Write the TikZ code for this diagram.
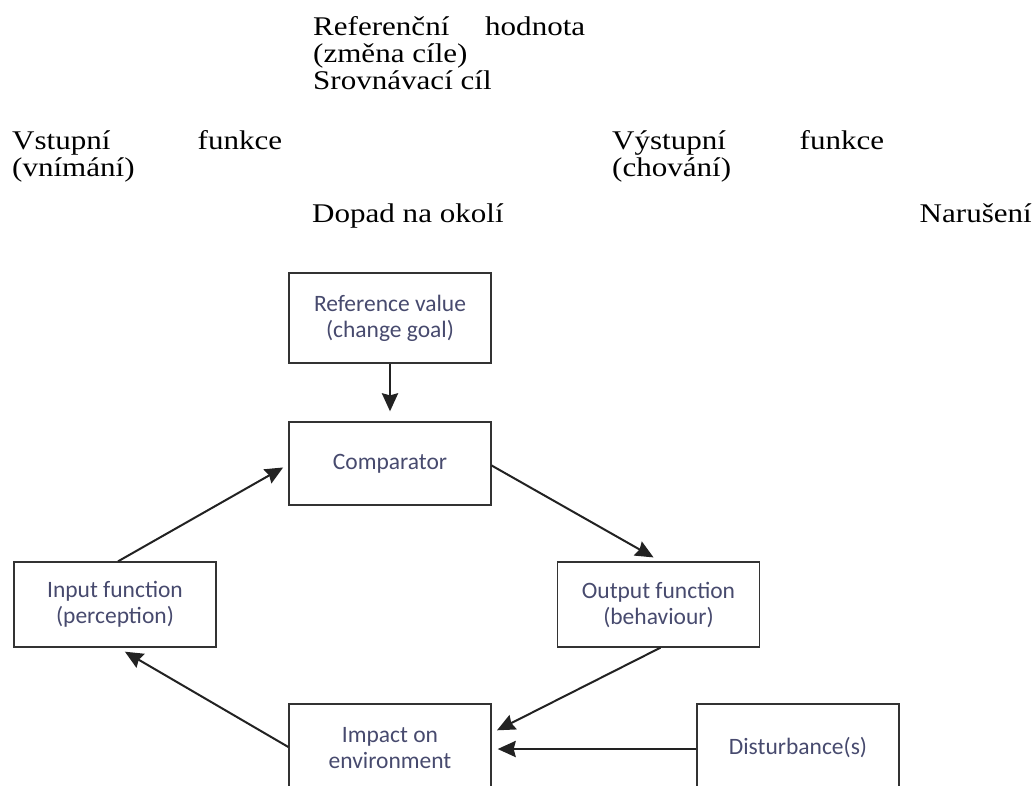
\documentclass[tikz,border=0pt]{standalone}
\usepackage{fontspec}
\setmainfont{Liberation Serif}
\newfontfamily\czfont{Liberation Serif}[FakeStretch=1.15]
\newfontfamily\boxfont{Carlito}
\usetikzlibrary{arrows.meta,calc}

\definecolor{boxtext}{HTML}{474A6E}
\definecolor{frame}{HTML}{333333}
\definecolor{wire}{HTML}{222222}

\tikzset{
  cztext/.style={anchor=base west, inner sep=0pt, font={\czfont\fontsize{27}{27}\selectfont}},
  block/.style={draw=frame, line width=1.3pt, rectangle, inner sep=0pt,
    minimum width=202pt, text=boxtext, align=center,
    font={\boxfont\fontsize{23.5}{26}\selectfont}},
  link/.style={draw=wire, line width=2pt,
    -{Stealth[length=18pt,width=16pt,inset=2pt]}},
  heavylink/.style={link, line width=2.8pt}
}

\begin{document}
\begin{tikzpicture}[x=1pt,y=-1pt]
\useasboundingbox (0,0) rectangle (1035,785);
\clip (0,0) rectangle (1035,785);

% Czech labels
\node[cztext] (czref)  at (313,35)  {\makebox[272pt][s]{Referenční hodnota}};
\node[cztext] (czrefb) at (313,62)  {(změna cíle)};
\node[cztext] (czcmp)  at (313,89)  {Srovnávací cíl};
\node[cztext] (czin)   at (12,149)  {\makebox[270pt][s]{Vstupní funkce}};
\node[cztext] (czinb)  at (12,176)  {(vnímání)};
\node[cztext] (czout)  at (612,149) {\makebox[272pt][s]{Výstupní funkce}};
\node[cztext] (czoutb) at (612,176) {(chování)};
\node[cztext] (czimp)  at (312,222) {Dopad na okolí};
\node[cztext, anchor=base east] (czdist) at (1032,222) {Narušení};

% Control loop blocks
\node[block, minimum height=90pt] (ref)  at (390,318)   {Reference value\\(change goal)};
\node[block, minimum height=83pt] (comp) at (390,463.5) {Comparator};
\node[block, minimum height=85pt] (inp)  at (115,604.5) {Input function\\(perception)};
\node[block, minimum height=85pt] (outp) at (658.5,604.5) {Output function\\(behaviour)};
\node[block, minimum height=88pt] (imp)  at (390,748)   {Impact on\\environment};
\node[block, minimum height=88pt] (dist) at (798,748)   {Disturbance(s)};

% Connectors
\draw[heavylink, shorten >=10pt] (ref.south) -- (comp.north);
\draw[link, shorten >=6pt] ([xshift=3pt]inp.north) -- ([yshift=-1pt]comp.west);
\draw[link, shorten >=8pt] ([yshift=-2pt]comp.east) -- ([xshift=2pt]outp.north);
\draw[link, shorten >=6pt] ([xshift=2pt]outp.south) -- ($(imp.east)+(0,-15)$);
\draw[link, shorten >=8pt] ([yshift=1pt]imp.west) -- ([xshift=3pt]inp.south);
\draw[heavylink, shorten >=6pt] ([yshift=-1pt]dist.west) -- ([yshift=-1pt]imp.east);
\end{tikzpicture}
\end{document}
